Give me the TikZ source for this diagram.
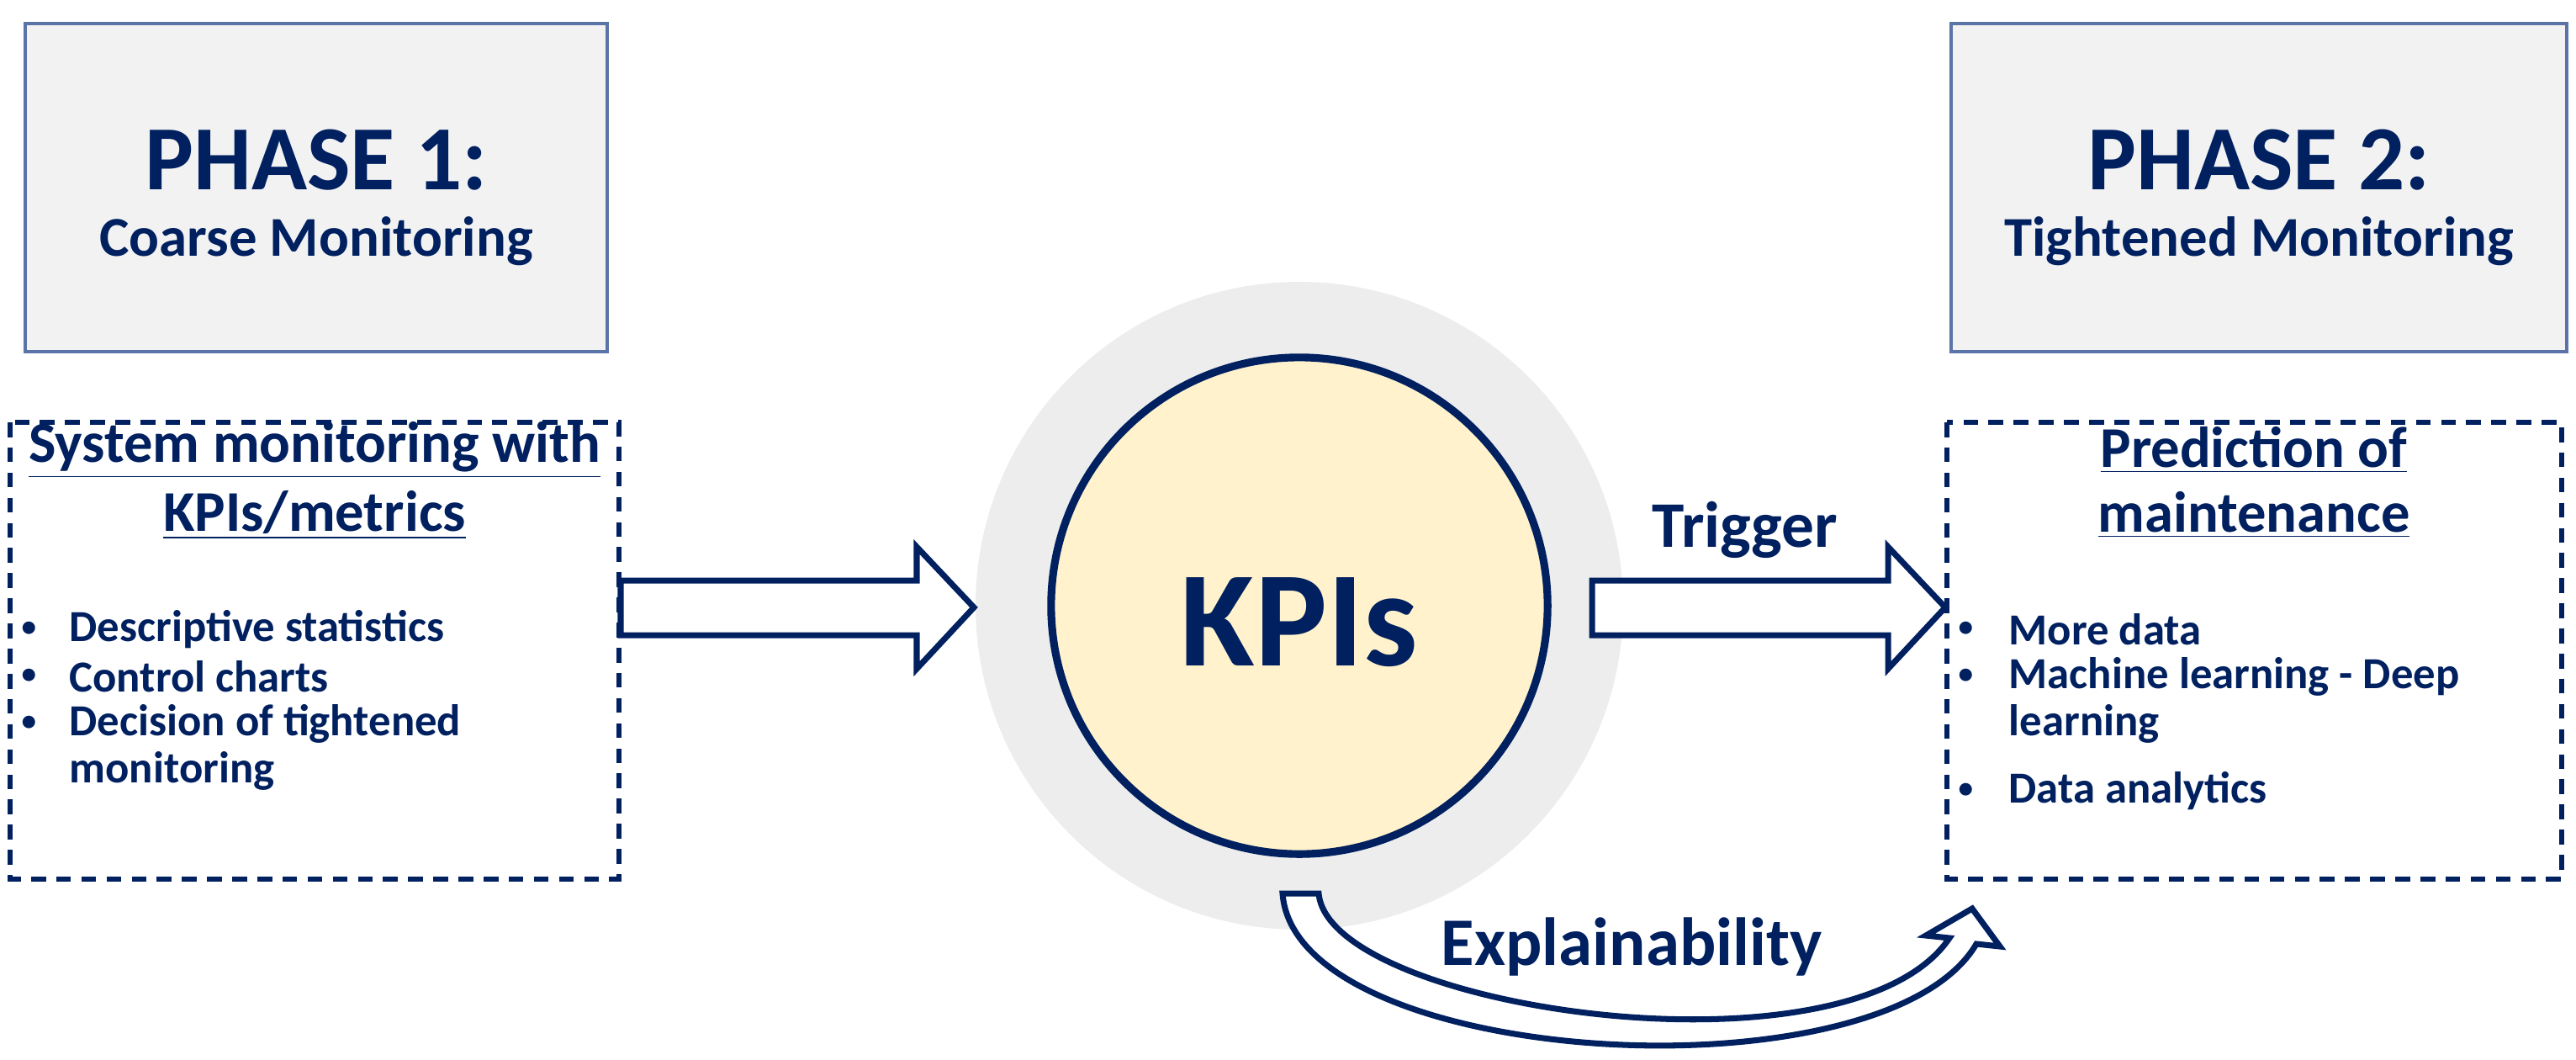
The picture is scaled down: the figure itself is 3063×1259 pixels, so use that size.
\documentclass[tikz,border=0pt]{standalone}
\usepackage{fontspec}
\setmainfont{Carlito}
\definecolor{navy}{HTML}{002060}
\definecolor{boxline}{HTML}{5A74A8}
\definecolor{boxfill}{HTML}{F2F2F2}
\definecolor{halo}{HTML}{EDEDED}
\definecolor{kpifill}{HTML}{FFF2CC}
\newcommand{\bul}{{\fontsize{10}{12}\selectfont\textbullet}}
\begin{document}
\begin{tikzpicture}[x=0.01cm,y=-0.01cm,
  phase/.style={draw=boxline,fill=boxfill,line width=1.4pt},
  dbox/.style={draw=navy,line width=1.5pt,dash pattern=on 5pt off 3.5pt},
  txt/.style={text=navy,font=\bfseries,inner sep=0pt},
  blk/.style={draw=navy,fill=white,line width=2pt,line join=miter}]
\useasboundingbox (0,0) rectangle (3063,1259);
% phase boxes
\draw[phase] (30,28) rectangle (722,418);
\draw[phase] (2320,28) rectangle (3052,418);
\node[txt,font=\bfseries\fontsize{31}{36}\selectfont] (p1) at (376,190) {PHASE 1:};
\node[txt,font=\bfseries\fontsize{19}{22}\selectfont] (p1b) at (376,287) {Coarse Monitoring};
\node[txt,font=\bfseries\fontsize{31}{36}\selectfont] (p2) at (2686,190) {PHASE 2:};
\node[txt,font=\bfseries\fontsize{19}{22}\selectfont] (p2b) at (2686,287) {Tightened Monitoring};
% dashed boxes
\draw[dbox] (12,502) rectangle (736,1045);
\draw[dbox] (2315,502) rectangle (3046,1045);
\node[txt,font=\bfseries\fontsize{19.5}{23}\selectfont] (h1) at (374,535) {\underline{System monitoring with}};
\node[txt,font=\bfseries\fontsize{19.5}{23}\selectfont] (h2) at (374,612) {\underline{KPIs/metrics}};
\node[txt,font=\bfseries\fontsize{19.5}{23}\selectfont] (h3) at (2680,535) {\underline{Prediction of}};
\node[txt,font=\bfseries\fontsize{19.5}{23}\selectfont] (h4) at (2680,612) {\underline{maintenance}};
\begin{scope}[every node/.style={txt,font=\bfseries\fontsize{15}{18}\selectfont,anchor=west}]
\node (l1b) at (25,748) {\bul}; \node (l1) at (82,748) {Descriptive statistics};
\node (l2b) at (25,804) {\bul}; \node (l2) at (82,804) {Control charts};
\node (l3b) at (25,860) {\bul}; \node (l3) at (82,860) {Decision of tightened};
\node (l4) at (82,916) {monitoring};
\node (r1b) at (2328,748) {\bul}; \node (r1) at (2388,748) {More data};
\node (r2b) at (2328,804) {\bul}; \node (r2) at (2388,804) {Machine learning - Deep};
\node (r3) at (2388,860) {learning};
\node (r4b) at (2328,940) {\bul}; \node (r4) at (2388,940) {Data analytics};
\end{scope}
% KPI circle
\fill[halo] (1545,720) circle (385);
\node[circle,draw=navy,fill=kpifill,line width=2.6pt,minimum size=5.9cm,inner sep=0pt] (kpi) at (1545,720) {};
\node[txt,font=\bfseries\fontsize{46}{52}\selectfont] (kt) at (1545,740) {KPIs};
% straight block arrows
\draw[blk] (738,690) -- (1090,690) -- (1090,650) -- (1158,722) -- (1090,795) -- (1090,755) -- (738,755) -- cycle;
\draw[blk] (1893,690) -- (2245,690) -- (2245,650) -- (2313,722) -- (2245,795) -- (2245,755) -- (1893,755) -- cycle;
\node[txt,font=\bfseries\fontsize{22}{26}\selectfont] (trig) at (2075,630) {Trigger};
% curved arrow
\draw[blk] (1525,1062) -- (1568,1062) .. controls (1580,1200) and (2200,1290) .. (2318,1115) -- (2290,1112) -- (2345,1080) -- (2378,1125) -- (2350,1122) .. controls (2240,1310) and (1540,1270) .. (1525,1062) -- cycle;
\node[txt,font=\bfseries\fontsize{23}{27}\selectfont] (expl) at (1940,1125) {Explainability};
\end{tikzpicture}
\end{document}
